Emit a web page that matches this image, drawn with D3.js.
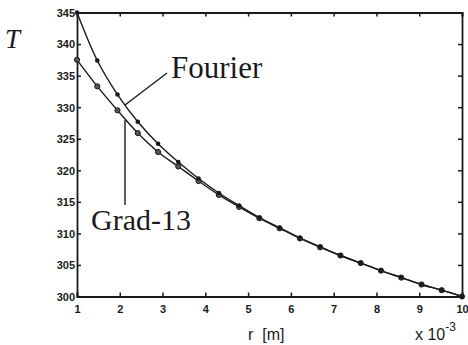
<!DOCTYPE html>
<html><head><meta charset="utf-8">
<script src="https://cdn.jsdelivr.net/npm/d3@7"></script>
<style>
html,body{margin:0;padding:0;background:#fff;}
svg{display:block;}
</style></head>
<body>
<script>
// r positions in units of 1e-3 m
const rValues = [1.000,1.474,1.947,2.421,2.895,3.368,3.842,4.316,4.789,5.263,5.737,6.211,6.684,7.158,7.632,8.105,8.579,9.053,9.526,10.000];
const fourierT = [345.0,337.4,332.0,327.7,324.2,321.3,318.7,316.4,314.4,312.5,310.9,309.3,307.9,306.5,305.3,304.1,303.0,301.9,301.0,300.0];
const grad13T  = [337.5,333.3,329.5,325.9,322.9,320.6,318.3,316.1,314.2,312.4,310.8,309.2,307.8,306.5,305.3,304.1,303.0,301.9,301.0,300.0];
const xTicks = [1,2,3,4,5,6,7,8,9,10];
const yTicks = [300,305,310,315,320,325,330,335,340,345];

const W = 468, H = 345;
const m = {left:77, right:6, top:12.5, bottom:48.5};
const svg = d3.select("body").append("svg").attr("width",W).attr("height",H);

const x = d3.scaleLinear().domain([1,10]).range([m.left, W-m.right]);
const y = d3.scaleLinear().domain([300,345]).range([H-m.bottom, m.top]);

const ink = "#1a1a1a";
const tickFont = "'Liberation Sans Narrow','Arial Narrow','Liberation Sans',sans-serif";

// axes with inward ticks
const gB = svg.append("g").attr("transform",`translate(0,${y(300)})`)
  .call(d3.axisBottom(x).tickValues(xTicks).tickSize(-4).tickPadding(9).tickFormat(d3.format("d")));
const gT = svg.append("g").attr("transform",`translate(0,${y(345)})`)
  .call(d3.axisTop(x).tickValues(xTicks).tickSize(-4).tickFormat(""));
const gL = svg.append("g").attr("transform",`translate(${x(1)},0)`)
  .call(d3.axisLeft(y).tickValues(yTicks).tickSize(-4).tickPadding(2).tickFormat(d3.format("d")));
const gR = svg.append("g").attr("transform",`translate(${x(10)},0)`)
  .call(d3.axisRight(y).tickValues(yTicks).tickSize(-4).tickFormat(""));

[gB,gT,gL,gR].forEach(g=>{
  g.select(".domain").attr("stroke",ink).attr("stroke-width",1.8);
  g.selectAll(".tick line").attr("stroke",ink).attr("stroke-width",1.5);
  g.selectAll("text").attr("font-family",tickFont).attr("font-weight","bold")
    .attr("font-size",11).attr("fill",ink);
});
gL.selectAll("text").attr("dy","0.35em");
gB.selectAll("text").attr("dy","0.71em");

// curves
const line = d3.line().x((d,i)=>x(rValues[i])).y(d=>y(d)).curve(d3.curveCatmullRom);
svg.append("path").datum(fourierT).attr("d",line)
  .attr("fill","none").attr("stroke",ink).attr("stroke-width",1.4);
svg.append("path").datum(grad13T).attr("d",line)
  .attr("fill","none").attr("stroke",ink).attr("stroke-width",1.4);

// markers
svg.append("g").selectAll("circle").data(grad13T).join("circle")
  .attr("cx",(d,i)=>x(rValues[i])).attr("cy",d=>y(d)).attr("r",2.6)
  .attr("fill","#555").attr("stroke",ink).attr("stroke-width",1);
svg.append("g").selectAll("circle").data(fourierT).join("circle")
  .attr("cx",(d,i)=>x(rValues[i])).attr("cy",d=>y(d)).attr("r",2.3)
  .attr("fill",ink);

// annotations
const serif = "'Liberation Serif','Times New Roman',serif";
svg.append("text").attr("x",5).attr("y",48).text("T")
  .attr("font-family",serif).attr("font-style","italic").attr("font-size",27).attr("fill",ink);

svg.append("line").attr("x1",125).attr("y1",105).attr("x2",167).attr("y2",73)
  .attr("stroke",ink).attr("stroke-width",1.4);
svg.append("text").attr("x",171).attr("y",78).text("Fourier")
  .attr("font-family",serif).attr("font-size",31).attr("fill",ink);

svg.append("line").attr("x1",125).attr("y1",120).attr("x2",125).attr("y2",205)
  .attr("stroke",ink).attr("stroke-width",1.4);
svg.append("text").attr("x",91).attr("y",230).text("Grad-13")
  .attr("font-family",serif).attr("font-size",30).attr("fill",ink);

// axis label
const sans = "'Liberation Sans',Arial,sans-serif";
svg.append("text").attr("x",248).attr("y",340).attr("font-family",sans).attr("font-size",16).attr("fill",ink)
  .attr("xml:space","preserve").text("r  [m]");
const mult = svg.append("text").attr("x",415).attr("y",340).attr("font-family",sans).attr("font-size",16).attr("fill",ink);
mult.append("tspan").text("x 10");
mult.append("tspan").attr("dy",-9).attr("font-size",12).text("-3");
</script>
</body></html>
